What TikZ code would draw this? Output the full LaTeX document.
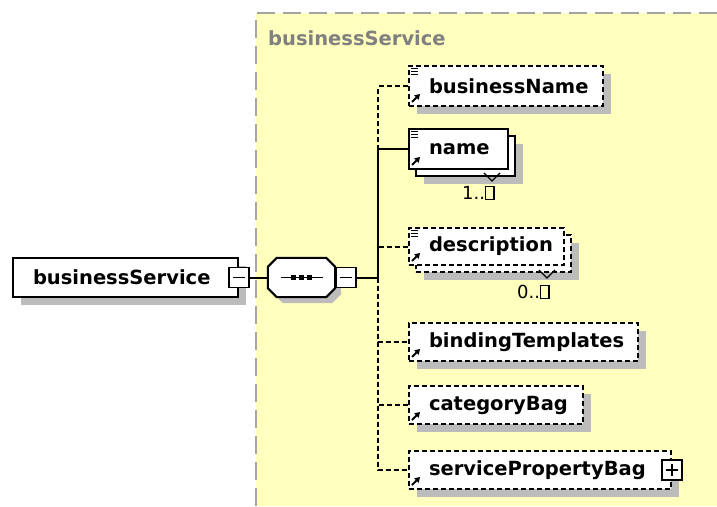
\documentclass[tikz,border=0pt]{standalone}
\usepackage{fontspec}
\setmainfont{DejaVu Sans}
\usetikzlibrary{arrows.meta,shadows}

\definecolor{panelyellow}{RGB}{255,255,190}
\definecolor{panelgray}{RGB}{165,165,165}
\definecolor{titlegray}{RGB}{128,128,128}
\definecolor{shadowgray}{RGB}{188,188,188}

% small framed box standing in for the unbounded multiplicity
\newcommand{\unboundedbox}{{\setlength{\fboxsep}{0pt}\setlength{\fboxrule}{1.3pt}\fbox{\rule{0pt}{12pt}\hspace{7pt}}}}

\tikzset{
  elemfont/.style={font=\fontsize{19.5}{22}\selectfont\bfseries},
  boxshadow/.style={drop shadow={shadow xshift=8pt,shadow yshift=-8pt,fill=shadowgray,opacity=1}},
  elem/.style={rectangle, draw=black, line width=2pt, fill=white,
    minimum height=40pt, inner ysep=0pt, inner xsep=20pt, align=left,
    anchor=north west, elemfont},
  optelem/.style={elem, dash pattern=on 5pt off 3pt},
  toggle/.style={rectangle, draw=black, line width=1.6pt, fill=white,
    minimum size=20pt, inner sep=0pt},
  link/.style={draw=black, line width=2pt},
  optlink/.style={link, dash pattern=on 5pt off 3pt},
  iconline/.style={line width=1.2pt},
  refarrow/.style={line width=2pt, -{Triangle[length=5pt,width=6pt]}},
  multfont/.style={font=\fontsize{18}{20}\selectfont, anchor=west, inner sep=0pt},
}

\begin{document}
\begin{tikzpicture}[x=1pt,y=-1pt]
\useasboundingbox (0,0) rectangle (717,506);

% complex type panel
\fill[panelyellow] (256,13) rectangle (717,506);
\draw[panelgray, line width=2pt, dash pattern=on 18pt off 8pt] (256,506) -- (256,13) -- (717,13);
\node[elemfont, text=titlegray, anchor=west, inner sep=0pt] (title) at (268,38) {businessService};

% root element
\node[elem, boxshadow, text width=185pt, minimum height=39pt] (root) at (12,257) {businessService};
\node[toggle] (rootm) at (root.east) {};
\draw[line width=1.6pt] ([xshift=-6pt]rootm.center) -- ([xshift=6pt]rootm.center);

% sequence compositor (octagon)
\node[rectangle, minimum width=67pt, minimum height=39pt, inner sep=0pt] (seq) at (301.5,277.5) {};
\fill[shadowgray, transform canvas={shift={(6pt,-6pt)}}]
  ([xshift=9pt]seq.north west) -- ([xshift=-9pt]seq.north east) -- ([yshift=-9pt]seq.north east)
  -- ([yshift=9pt]seq.south east) -- ([xshift=-9pt]seq.south east) -- ([xshift=9pt]seq.south west)
  -- ([yshift=9pt]seq.south west) -- ([yshift=-9pt]seq.north west) -- cycle;
\draw[line width=2pt, fill=white]
  ([xshift=9pt]seq.north west) -- ([xshift=-9pt]seq.north east) -- ([yshift=-9pt]seq.north east)
  -- ([yshift=9pt]seq.south east) -- ([xshift=-9pt]seq.south east) -- ([xshift=9pt]seq.south west)
  -- ([yshift=9pt]seq.south west) -- ([yshift=-9pt]seq.north west) -- cycle;
\draw[line width=1.6pt] ([xshift=-21pt]seq.center) -- ([xshift=21pt]seq.center);
\foreach \dx in {-8,0,8}
  \fill ([xshift=\dx pt-2.5pt,yshift=-2.5pt]seq.center) rectangle ++(5pt,5pt);
\node[toggle] (seqm) at (346,277.5) {};
\draw[line width=1.6pt] ([xshift=-6pt]seqm.center) -- ([xshift=6pt]seqm.center);

\draw[link] (rootm.east) -- (seq.west);
\coordinate (trunk) at (378,277.5);
\draw[link] (seqm.east) -- (trunk);

% child elements
\node[optelem, boxshadow, text width=154pt] (bname) at (408,65) {businessName};
\node[elem, boxshadow, text width=59pt] (name2) at (415,135) {};
\node[elem, text width=59pt] (name) at (408,128) {name};
\node[optelem, boxshadow, text width=115pt, minimum height=37pt] (desc2) at (415,234) {};
\node[optelem, text width=115pt, minimum height=37pt] (desc) at (408,227) {description};
\node[optelem, boxshadow, text width=189pt, minimum height=38pt] (bind) at (408,322) {bindingTemplates};
\node[optelem, boxshadow, text width=134pt, minimum height=38pt] (cat) at (408,385) {categoryBag};
\node[optelem, boxshadow, text width=222pt, minimum height=38pt] (spb) at (408,450) {servicePropertyBag};
\node[toggle] (spbp) at (spb.east) {};
\draw[line width=1.6pt] ([xshift=-6pt]spbp.center) -- ([xshift=6pt]spbp.center)
  ([yshift=-6pt]spbp.center) -- ([yshift=6pt]spbp.center);

% connectors from the sequence
\draw[optlink] (trunk) |- (bname.west);
\draw[link] (trunk) |- (name.west);
\draw[optlink] (trunk) |- (desc.west);
\draw[optlink] (trunk) |- (bind.west);
\draw[optlink] (trunk) |- (cat.west);
\draw[optlink] (trunk) |- (spb.west);

% simple content icons
\foreach \n in {bname,name,desc}
  \foreach \dy in {3.5,6.5,9.5}
    \draw[iconline] ([xshift=3pt,yshift=-\dy pt]\n.north west) -- ++(7pt,0);
% reference arrows
\foreach \n in {bname,name,desc,bind,cat,spb}
  \draw[refarrow] ([xshift=4pt,yshift=5pt]\n.south west) -- ++(8pt,8pt);

% multiplicity markers
\draw[line width=1.2pt] ([xshift=-32pt,yshift=4pt]name2.south east) -- ++(8pt,-8pt) -- ++(8pt,8pt);
\node[multfont] (mname) at (462,193) {1..\unboundedbox};
\draw[line width=1.2pt] ([xshift=-33pt,yshift=3pt]desc2.south east) -- ++(8pt,-8pt) -- ++(8pt,8pt);
\node[multfont] (mdesc) at (517,292) {0..\unboundedbox};
\end{tikzpicture}
\end{document}
